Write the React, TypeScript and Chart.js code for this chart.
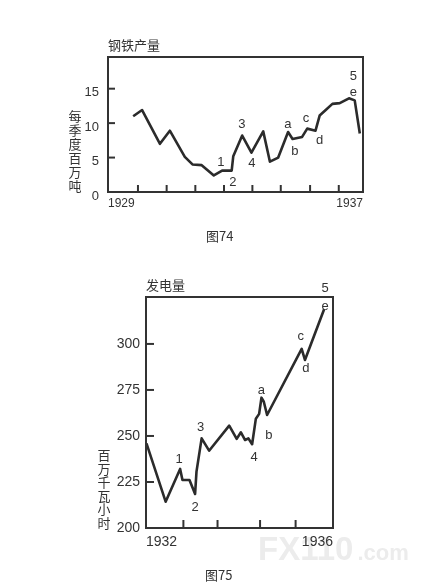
import React, { useEffect, useRef } from "react";
import { Chart, registerables } from "chart.js";

Chart.register(...registerables);

// ---------- 图74 钢铁产量 (每季度百万吨) ----------
const steelYears = [1929.79, 1930.07, 1930.63, 1930.94, 1931.41, 1931.65, 1931.94, 1932.32, 1932.58, 1932.88, 1932.93, 1933.21, 1933.5, 1933.87, 1934.08, 1934.34, 1934.65, 1934.79, 1935.09, 1935.25, 1935.51, 1935.64, 1935.83, 1936.04, 1936.27, 1936.56, 1936.74, 1936.9];
const steelValues = [11.0, 11.9, 7.0, 8.9, 5.1, 4.0, 3.9, 2.4, 3.1, 3.1, 5.2, 8.2, 5.7, 8.8, 4.4, 5.0, 8.7, 7.7, 8.0, 9.2, 8.9, 11.1, 11.9, 12.8, 12.9, 13.6, 13.3, 8.5];
const steelXLabels = [1929, 1937];
const steelXMarks = [1929.94, 1930.84, 1931.74, 1932.64, 1933.53, 1934.42, 1935.34, 1936.24];
const steelYTicks = [0, 5, 10, 15];
const steelWaveLabels = ["1", "2", "3", "4", "a", "b", "c", "d", "5", "e"];
const steelWaveYears = [1932.54, 1932.92, 1933.2, 1933.51, 1934.64, 1934.86, 1935.21, 1935.64, 1936.7, 1936.7];
const steelWaveValues = [4.35, 1.45, 9.86, 4.2, 9.86, 5.94, 10.72, 7.54, 16.8, 14.5];

// ---------- 图75 发电量 (百万千瓦小时) ----------
const powerYears = [1932.01, 1932.42, 1932.73, 1932.78, 1932.93, 1933.05, 1933.08, 1933.19, 1933.35, 1933.78, 1933.94, 1934.03, 1934.12, 1934.19, 1934.27, 1934.35, 1934.42, 1934.47, 1934.52, 1934.59, 1935.33, 1935.4, 1935.81];
const powerValues = [246.0, 214.3, 232.1, 226.1, 226.1, 218.5, 230.6, 248.7, 242.0, 255.6, 248.4, 252.0, 247.8, 248.7, 245.5, 259.4, 262.0, 270.8, 268.6, 261.4, 297.3, 291.3, 318.8];
const powerXLabels = [1932, 1936];
const powerXMarks = [1932.8, 1933.53, 1934.44, 1935.2];
const powerYTicks = [200, 225, 250, 275, 300];
const powerWaveLabels = ["1", "2", "3", "4", "a", "b", "c", "d", "5", "e"];
const powerWaveYears = [1932.71, 1933.05, 1933.17, 1934.31, 1934.47, 1934.63, 1935.31, 1935.42, 1935.83, 1935.83];
const powerWaveValues = [237.4, 211.3, 254.9, 238.2, 274.6, 250.5, 304.3, 286.6, 329.9, 320.5];

const INK = "#333333";
const LATIN = "'Liberation Sans', 'Noto Sans CJK SC', sans-serif";
const CJK = "'Noto Sans CJK SC', 'Liberation Sans', sans-serif";

type Spec = {
  width: number;
  height: number;
  xMin: number;
  xMax: number;
  yMin: number;
  yMax: number;
  years: number[];
  values: number[];
  xLabels: number[];
  xMarks: number[];
  yTicks: number[];
  waveLabels: string[];
  waveYears: number[];
  waveValues: number[];
  title: string;
  yTitle: string;
  caption: string;
  // layout
  padTop: number;
  padRight: number;
  yWidth: number;
  xHeight: number;
  xFont: number;
  yFont: number;
  xPad: number;
  yPad: number;
  yLabelOffset: number;
  tickLen: number;
  yTitleX: number;
  yTitleTop: number;
  yTitleStep: number;
  captionX: number;
  captionY: number;
  watermark?: { x: number; y: number };
};

function makeDecor(s: Spec) {
  return {
    id: "decor",
    beforeDraw(chart: any) {
      if (!s.watermark) return;
      const { ctx } = chart;
      ctx.save();
      ctx.fillStyle = "#ececec";
      ctx.textBaseline = "alphabetic";
      ctx.textAlign = "left";
      ctx.font = `bold 33px ${LATIN}`;
      ctx.fillText("FX110", s.watermark.x, s.watermark.y);
      const w = ctx.measureText("FX110").width;
      ctx.font = `bold 22px ${LATIN}`;
      ctx.fillText(".com", s.watermark.x + w + 4, s.watermark.y);
      ctx.restore();
    },
    afterDatasetsDraw(chart: any) {
      const { ctx, chartArea: a, scales } = chart;
      ctx.save();
      ctx.strokeStyle = INK;
      ctx.lineWidth = 2;
      ctx.lineCap = "butt";
      ctx.strokeRect(a.left, a.top, a.right - a.left, a.bottom - a.top);
      s.xMarks.forEach((v) => {
        const x = scales.x.getPixelForValue(v);
        ctx.beginPath();
        ctx.moveTo(x, a.bottom);
        ctx.lineTo(x, a.bottom - s.tickLen);
        ctx.stroke();
      });
      s.yTicks.forEach((v) => {
        if (v === s.yMin) return;
        const y = scales.y.getPixelForValue(v);
        ctx.beginPath();
        ctx.moveTo(a.left, y);
        ctx.lineTo(a.left + s.tickLen, y);
        ctx.stroke();
      });
      ctx.fillStyle = INK;
      ctx.textAlign = "center";
      ctx.textBaseline = "middle";
      ctx.font = `13px ${LATIN}`;
      s.waveLabels.forEach((t, i) => {
        ctx.fillText(t, scales.x.getPixelForValue(s.waveYears[i]), scales.y.getPixelForValue(s.waveValues[i]));
      });
      ctx.font = `13px ${CJK}`;
      ctx.textAlign = "left";
      ctx.fillText(s.title, a.left, a.top - 12);
      ctx.textAlign = "center";
      Array.from(s.yTitle).forEach((ch, i) => {
        ctx.fillText(ch, s.yTitleX, s.yTitleTop + i * s.yTitleStep);
      });
      ctx.textAlign = "left";
      ctx.font = `13px ${CJK}`;
      ctx.fillText(s.caption, s.captionX, s.captionY);
      ctx.restore();
    },
  };
}

function LineChart({ spec, top }: { spec: Spec; top: number }) {
  const ref = useRef<HTMLCanvasElement | null>(null);
  useEffect(() => {
    if (!ref.current) return;
    const s = spec;
    const chart = new Chart(ref.current, {
      type: "line",
      data: {
        datasets: [
          {
            data: s.years.map((x, i) => ({ x, y: s.values[i] })),
            borderColor: "#2b2b2b",
            borderWidth: 2.6,
            pointRadius: 0,
            tension: 0,
            fill: false,
            borderJoinStyle: "round",
          },
        ],
      },
      options: {
        responsive: false,
        animation: false,
        devicePixelRatio: 1,
        layout: { padding: { top: s.padTop, right: s.padRight, left: 0, bottom: 0 } },
        plugins: { legend: { display: false }, tooltip: { enabled: false }, title: { display: false } },
        scales: {
          x: {
            type: "linear",
            min: s.xMin,
            max: s.xMax,
            border: { display: false },
            grid: { display: false, drawTicks: false },
            afterBuildTicks: (scale: any) => {
              scale.ticks = s.xLabels.map((v) => ({ value: v }));
            },
            afterFit: (scale: any) => {
              scale.height = s.xHeight;
            },
            ticks: {
              align: "inner",
              maxRotation: 0,
              autoSkip: false,
              padding: s.xPad,
              color: INK,
              font: { family: LATIN, size: s.xFont },
              callback: (v: any) => String(v),
            },
          },
          y: {
            type: "linear",
            min: s.yMin,
            max: s.yMax,
            border: { display: false },
            grid: { display: false, drawTicks: false },
            afterBuildTicks: (scale: any) => {
              scale.ticks = s.yTicks.map((v) => ({ value: v }));
            },
            afterFit: (scale: any) => {
              scale.width = s.yWidth;
            },
            ticks: {
              padding: s.yPad,
              labelOffset: s.yLabelOffset,
              color: INK,
              font: { family: LATIN, size: s.yFont },
              callback: (v: any) => String(v),
            },
          },
        },
      } as any,
      plugins: [makeDecor(s)],
    });
    return () => chart.destroy();
  }, [spec]);
  return (
    <canvas
      ref={ref}
      width={spec.width}
      height={spec.height}
      style={{ position: "absolute", left: 0, top, width: spec.width, height: spec.height, display: "block" }}
    />
  );
}

const steelSpec: Spec = {
  width: 427,
  height: 260,
  xMin: 1929,
  xMax: 1937,
  yMin: 0,
  yMax: 19.6,
  years: steelYears,
  values: steelValues,
  xLabels: steelXLabels,
  xMarks: steelXMarks,
  yTicks: steelYTicks,
  waveLabels: steelWaveLabels,
  waveYears: steelWaveYears,
  waveValues: steelWaveValues,
  title: "钢铁产量",
  yTitle: "每季度百万吨",
  caption: "图74",
  padTop: 57,
  padRight: 64,
  yWidth: 108,
  xHeight: 68,
  xFont: 12,
  yFont: 13,
  xPad: 4,
  yPad: 9,
  yLabelOffset: 4,
  tickLen: 7,
  yTitleX: 75,
  yTitleTop: 116,
  yTitleStep: 14,
  captionX: 206,
  captionY: 236,
};

const powerSpec: Spec = {
  width: 427,
  height: 325,
  xMin: 1932,
  xMax: 1936,
  yMin: 200,
  yMax: 325.5,
  years: powerYears,
  values: powerValues,
  xLabels: powerXLabels,
  xMarks: powerXMarks,
  yTicks: powerYTicks,
  waveLabels: powerWaveLabels,
  waveYears: powerWaveYears,
  waveValues: powerWaveValues,
  title: "发电量",
  yTitle: "百万千瓦小时",
  caption: "图75",
  padTop: 37,
  padRight: 94,
  yWidth: 146,
  xHeight: 57,
  xFont: 14,
  yFont: 14,
  xPad: 6,
  yPad: 6,
  yLabelOffset: 0,
  tickLen: 8,
  yTitleX: 104,
  yTitleTop: 195,
  yTitleStep: 13.6,
  captionX: 205,
  captionY: 315,
  watermark: { x: 258, y: 300 },
};

export default function App() {
  return (
    <div style={{ position: "absolute", left: 0, top: 0, width: 427, height: 585, background: "#ffffff" }}>
      <LineChart spec={steelSpec} top={0} />
      <LineChart spec={powerSpec} top={260} />
    </div>
  );
}
